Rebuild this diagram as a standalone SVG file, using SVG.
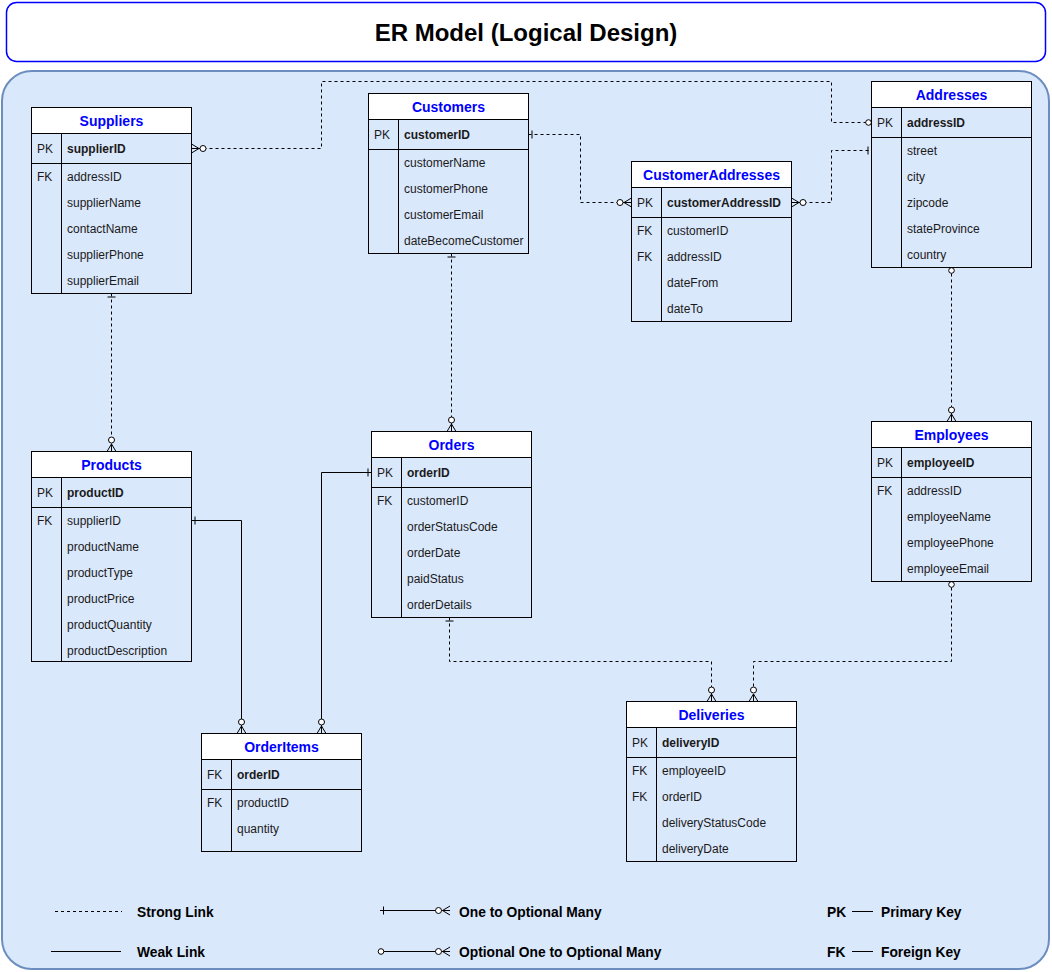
<svg xmlns="http://www.w3.org/2000/svg" width="1052" height="972" viewBox="0 0 1052 972">
<style>
.tb{fill:none;stroke:#000;stroke-width:1}
.hd{fill:#fff;stroke:#000;stroke-width:1}
.ln{stroke:#000;stroke-width:1;fill:none}
.ht{font-family:"Liberation Sans",Arial,sans-serif;font-size:14px;font-weight:bold;fill:#0000FF;text-anchor:middle;dominant-baseline:central}
.ft{font-family:"Liberation Sans",Arial,sans-serif;font-size:12px;fill:#1a1a1a;dominant-baseline:central}
.pk{font-weight:bold}
.cn{fill:none;stroke:#000;stroke-width:1}
.dash{stroke-dasharray:3 3}
.lg{font-family:"Liberation Sans",Arial,sans-serif;font-size:13.8px;font-weight:bold;fill:#000;dominant-baseline:central}
</style>
<defs>
<marker id="zm" viewBox="-17 -7 19 14" refX="0" refY="0" markerWidth="19" markerHeight="14" markerUnits="userSpaceOnUse" orient="auto-start-reverse">
<path d="M-7.5,0 L0,-4.5 M-7.5,0 L0,0 M-7.5,0 L0,4.5" fill="none" stroke="#000" stroke-width="1"/>
<circle cx="-11.5" cy="0" r="3" fill="#fff" stroke="#000" stroke-width="1"/>
</marker>
<marker id="one" viewBox="-8 -6 10 12" refX="0" refY="0" markerWidth="10" markerHeight="12" markerUnits="userSpaceOnUse" orient="auto-start-reverse">
<path d="M-3.5,-4 V4" fill="none" stroke="#000" stroke-width="1"/>
</marker>
<marker id="zo" viewBox="-8 -6 10 12" refX="0" refY="0" markerWidth="10" markerHeight="12" markerUnits="userSpaceOnUse" orient="auto-start-reverse">
<circle cx="-3" cy="0" r="2.8" fill="#fff" stroke="#000" stroke-width="1"/>
</marker>
</defs>

<g id="title">
<rect x="6.5" y="2.5" width="1039" height="59" rx="10" fill="#fff" stroke="#0000FF" stroke-width="1.5"/>
<text x="526" y="32" font-family="Liberation Sans,Arial,sans-serif" font-size="24" font-weight="bold" text-anchor="middle" dominant-baseline="central" fill="#000">ER Model (Logical Design)</text>
</g>

<g id="panel">
<rect x="2" y="71" width="1047" height="898" rx="30" fill="#dae8fc" stroke="#6c8ebf" stroke-width="2"/>
</g>

<g id="connectors">
<path class="cn dash" d="M191.5,148.5 H321.5 V81.5 H831.5 V122.5 H871.5" marker-start="url(#zm)" marker-end="url(#zo)"/>
<path class="cn dash" d="M528.5,134.5 H580.5 V202.5 H631.5" marker-start="url(#one)" marker-end="url(#zm)"/>
<path class="cn dash" d="M791.5,202.5 H831.5 V150.5 H871.5" marker-start="url(#zm)" marker-end="url(#one)"/>
<path class="cn dash" d="M451.5,253.5 V431.5" marker-start="url(#one)" marker-end="url(#zm)"/>
<path class="cn dash" d="M111.5,293.5 V451.5" marker-start="url(#one)" marker-end="url(#zm)"/>
<path class="cn dash" d="M951.5,267.5 V421.5" marker-start="url(#zo)" marker-end="url(#zm)"/>
<path class="cn" d="M191.5,520.5 H241.5 V733.5" marker-start="url(#one)" marker-end="url(#zm)"/>
<path class="cn" d="M371.5,472.5 H321.5 V733.5" marker-start="url(#one)" marker-end="url(#zm)"/>
<path class="cn dash" d="M449.5,617.5 V661.5 H711.5 V701.5" marker-start="url(#one)" marker-end="url(#zm)"/>
<path class="cn dash" d="M951.5,581.5 V661.5 H753.5 V701.5" marker-start="url(#zo)" marker-end="url(#zm)"/>
</g>

<g id="suppliers">
<rect class="hd" x="31.5" y="107.5" width="160" height="26"/>
<rect class="tb" x="31.5" y="107.5" width="160" height="186"/>
<path class="ln" d="M31.5,163.5 H191.5 M61.5,133.5 V293.5"/>
<text class="ht" x="111.5" y="120.5">Suppliers</text>
<text class="ft" x="37" y="148.5">PK</text>
<text class="ft pk" x="67" y="148.5">supplierID</text>
<text class="ft" x="37" y="176.5">FK</text>
<text class="ft" x="67" y="176.5">addressID</text>
<text class="ft" x="67" y="202.5">supplierName</text>
<text class="ft" x="67" y="228.5">contactName</text>
<text class="ft" x="67" y="254.5">supplierPhone</text>
<text class="ft" x="67" y="280.5">supplierEmail</text>
</g>

<g id="customers">
<rect class="hd" x="368.5" y="93.5" width="160" height="26"/>
<rect class="tb" x="368.5" y="93.5" width="160" height="160"/>
<path class="ln" d="M368.5,149.5 H528.5 M398.5,119.5 V253.5"/>
<text class="ht" x="448.5" y="106.5">Customers</text>
<text class="ft" x="374" y="134.5">PK</text>
<text class="ft pk" x="404" y="134.5">customerID</text>
<text class="ft" x="404" y="162.5">customerName</text>
<text class="ft" x="404" y="188.5">customerPhone</text>
<text class="ft" x="404" y="214.5">customerEmail</text>
<text class="ft" x="404" y="240.5">dateBecomeCustomer</text>
</g>

<g id="customerAddresses">
<rect class="hd" x="631.5" y="161.5" width="160" height="26"/>
<rect class="tb" x="631.5" y="161.5" width="160" height="160"/>
<path class="ln" d="M631.5,217.5 H791.5 M661.5,187.5 V321.5"/>
<text class="ht" x="711.5" y="174.5">CustomerAddresses</text>
<text class="ft" x="637" y="202.5">PK</text>
<text class="ft pk" x="667" y="202.5">customerAddressID</text>
<text class="ft" x="637" y="230.5">FK</text>
<text class="ft" x="667" y="230.5">customerID</text>
<text class="ft" x="637" y="256.5">FK</text>
<text class="ft" x="667" y="256.5">addressID</text>
<text class="ft" x="667" y="282.5">dateFrom</text>
<text class="ft" x="667" y="308.5">dateTo</text>
</g>

<g id="addresses">
<rect class="hd" x="871.5" y="81.5" width="160" height="26"/>
<rect class="tb" x="871.5" y="81.5" width="160" height="186"/>
<path class="ln" d="M871.5,137.5 H1031.5 M901.5,107.5 V267.5"/>
<text class="ht" x="951.5" y="94.5">Addresses</text>
<text class="ft" x="877" y="122.5">PK</text>
<text class="ft pk" x="907" y="122.5">addressID</text>
<text class="ft" x="907" y="150.5">street</text>
<text class="ft" x="907" y="176.5">city</text>
<text class="ft" x="907" y="202.5">zipcode</text>
<text class="ft" x="907" y="228.5">stateProvince</text>
<text class="ft" x="907" y="254.5">country</text>
</g>

<g id="products">
<rect class="hd" x="31.5" y="451.5" width="160" height="26"/>
<rect class="tb" x="31.5" y="451.5" width="160" height="210"/>
<path class="ln" d="M31.5,507.5 H191.5 M61.5,477.5 V661.5"/>
<text class="ht" x="111.5" y="464.5">Products</text>
<text class="ft" x="37" y="492.5">PK</text>
<text class="ft pk" x="67" y="492.5">productID</text>
<text class="ft" x="37" y="520.5">FK</text>
<text class="ft" x="67" y="520.5">supplierID</text>
<text class="ft" x="67" y="546.5">productName</text>
<text class="ft" x="67" y="572.5">productType</text>
<text class="ft" x="67" y="598.5">productPrice</text>
<text class="ft" x="67" y="624.5">productQuantity</text>
<text class="ft" x="67" y="650.5">productDescription</text>
</g>

<g id="orders">
<rect class="hd" x="371.5" y="431.5" width="160" height="26"/>
<rect class="tb" x="371.5" y="431.5" width="160" height="186"/>
<path class="ln" d="M371.5,487.5 H531.5 M401.5,457.5 V617.5"/>
<text class="ht" x="451.5" y="444.5">Orders</text>
<text class="ft" x="377" y="472.5">PK</text>
<text class="ft pk" x="407" y="472.5">orderID</text>
<text class="ft" x="377" y="500.5">FK</text>
<text class="ft" x="407" y="500.5">customerID</text>
<text class="ft" x="407" y="526.5">orderStatusCode</text>
<text class="ft" x="407" y="552.5">orderDate</text>
<text class="ft" x="407" y="578.5">paidStatus</text>
<text class="ft" x="407" y="604.5">orderDetails</text>
</g>

<g id="employees">
<rect class="hd" x="871.5" y="421.5" width="160" height="26"/>
<rect class="tb" x="871.5" y="421.5" width="160" height="160"/>
<path class="ln" d="M871.5,477.5 H1031.5 M901.5,447.5 V581.5"/>
<text class="ht" x="951.5" y="434.5">Employees</text>
<text class="ft" x="877" y="462.5">PK</text>
<text class="ft pk" x="907" y="462.5">employeeID</text>
<text class="ft" x="877" y="490.5">FK</text>
<text class="ft" x="907" y="490.5">addressID</text>
<text class="ft" x="907" y="516.5">employeeName</text>
<text class="ft" x="907" y="542.5">employeePhone</text>
<text class="ft" x="907" y="568.5">employeeEmail</text>
</g>

<g id="orderItems">
<rect class="hd" x="201.5" y="733.5" width="160" height="26"/>
<rect class="tb" x="201.5" y="733.5" width="160" height="118"/>
<path class="ln" d="M201.5,789.5 H361.5 M231.5,759.5 V851.5"/>
<text class="ht" x="281.5" y="746.5">OrderItems</text>
<text class="ft" x="207" y="774.5">FK</text>
<text class="ft pk" x="237" y="774.5">orderID</text>
<text class="ft" x="207" y="802.5">FK</text>
<text class="ft" x="237" y="802.5">productID</text>
<text class="ft" x="237" y="828.5">quantity</text>
</g>

<g id="deliveries">
<rect class="hd" x="626.5" y="701.5" width="170" height="26"/>
<rect class="tb" x="626.5" y="701.5" width="170" height="160"/>
<path class="ln" d="M626.5,757.5 H796.5 M656.5,727.5 V861.5"/>
<text class="ht" x="711.5" y="714.5">Deliveries</text>
<text class="ft" x="632" y="742.5">PK</text>
<text class="ft pk" x="662" y="742.5">deliveryID</text>
<text class="ft" x="632" y="770.5">FK</text>
<text class="ft" x="662" y="770.5">employeeID</text>
<text class="ft" x="632" y="796.5">FK</text>
<text class="ft" x="662" y="796.5">orderID</text>
<text class="ft" x="662" y="822.5">deliveryStatusCode</text>
<text class="ft" x="662" y="848.5">deliveryDate</text>
</g>

<g id="legend">
<path class="cn dash" d="M55,911.5 H122"/>
<text class="lg" x="137" y="912">Strong Link</text>
<path class="cn" d="M51,951.5 H121"/>
<text class="lg" x="137" y="952">Weak Link</text>
<path class="cn" d="M380,910.5 H450" marker-start="url(#one)" marker-end="url(#zm)"/>
<text class="lg" x="459" y="912">One to Optional Many</text>
<path class="cn" d="M378,951.5 H450" marker-start="url(#zo)" marker-end="url(#zm)"/>
<text class="lg" x="459" y="952">Optional One to Optional Many</text>
<text class="lg" x="827" y="912">PK</text>
<path class="cn" d="M852,911.5 H873"/>
<text class="lg" x="881" y="912">Primary Key</text>
<text class="lg" x="827" y="952">FK</text>
<path class="cn" d="M852,951.5 H873"/>
<text class="lg" x="881" y="952">Foreign Key</text>
</g>
</svg>
